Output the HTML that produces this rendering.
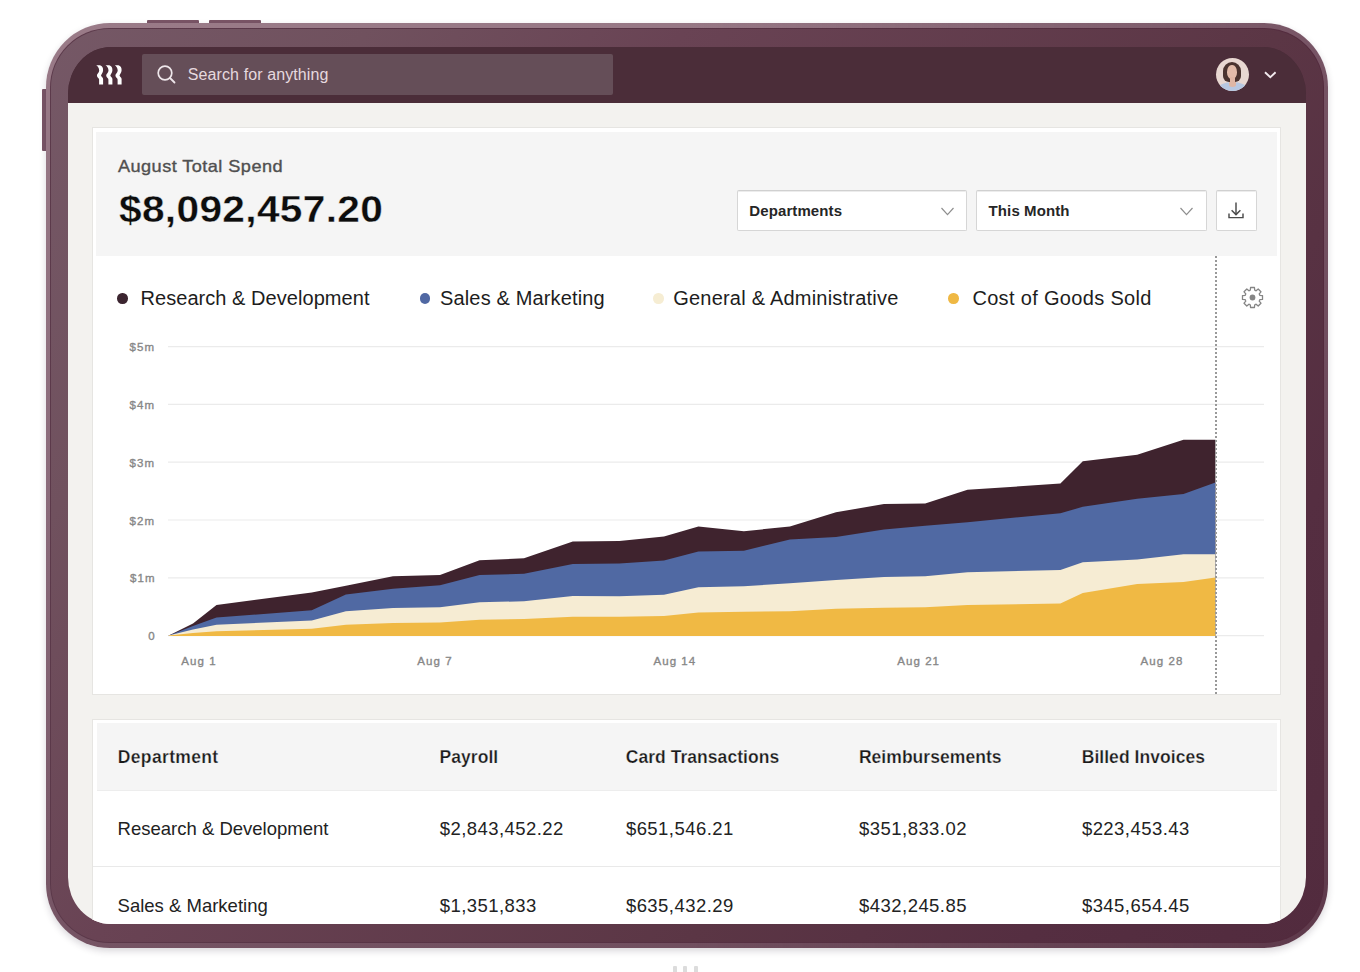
<!DOCTYPE html>
<html><head><meta charset="utf-8">
<style>
*{margin:0;padding:0;box-sizing:border-box}
html,body{width:1360px;height:972px;background:#fff;overflow:hidden;font-family:"Liberation Sans",sans-serif}
.abs{position:absolute}
.t{position:absolute;white-space:pre;line-height:1}
#shadow{left:45px;top:25px;width:1284px;height:926px;border-radius:65px;box-shadow:0 3px 8px rgba(60,40,60,.16)}
#rim{left:45.5px;top:23px;width:1282.5px;height:924.5px;border-radius:64px;background:linear-gradient(90deg,rgba(70,30,50,0) 0%,rgba(70,30,50,0) 50%,rgba(70,30,50,.38) 100%),linear-gradient(172deg,#9a7b88 0%,#8a6a7a 45%,#6c4a5a 100%);box-shadow:0 3px 7px rgba(40,30,50,.18)}
#dline{left:50px;top:27.5px;width:1273.5px;height:915.5px;border-radius:59.5px;background:linear-gradient(100deg,#5c3a4b 0%,#52293c 100%)}
#frame{left:51px;top:28.5px;width:1271.5px;height:913.5px;border-radius:58.5px;background:linear-gradient(123deg,#755866 0%,#70515e 17%,#694354 34%,#5b3645 66%,#552e41 84%,#522b3e 100%)}
#screen{left:67.5px;top:47px;width:1238.5px;height:877px;border-radius:43px / 47px;background:linear-gradient(#4b2d39 0,#4b2d39 56px,#f3f2ef 56px);overflow:hidden}
#hdr{left:0;top:0;width:100%;height:56px;background:#4b2d39}
#search{left:74.5px;top:7px;width:471px;height:41px;background:#654e58;border-radius:2px}
.card{position:absolute;background:#fff;border:1px solid #e6e5e2}
.gray{position:absolute;background:#f5f5f5}
.dd{position:absolute;background:#fff;border:1px solid #d6d6d6;border-top-color:#d0d0d0;border-radius:2px;box-shadow:inset 0 1px 0 #ececec}
.lg{font-size:20px;color:#1d1d1d;letter-spacing:0.15px}
.dot{position:absolute;width:10.4px;height:10.4px;border-radius:50%}
.yl{font-size:11.5px;color:#878787;font-weight:400;letter-spacing:1.05px;-webkit-text-stroke:0.35px #878787}
.th{letter-spacing:0.05px;-webkit-text-stroke:0.25px #f5f5f5;font-size:17.5px;font-weight:700;color:#1a1a1a}
.td{font-size:18.5px;color:#222}
.num{letter-spacing:0.45px}
</style></head><body>
<!-- side buttons -->
<div class="abs" style="left:146.5px;top:20px;width:52px;height:5px;background:#7a5566;border-radius:1px"></div>
<div class="abs" style="left:209px;top:20px;width:52px;height:5px;background:#7a5566;border-radius:1px"></div>
<div class="abs" style="left:42.3px;top:89px;width:5px;height:62px;background:#7a5566;border-radius:1px"></div>

<div class="abs" style="left:672.6px;top:965.5px;width:4px;height:7px;background:#dcdcdc;border-radius:1px 1px 0 0"></div>
<div class="abs" style="left:683.4px;top:965.5px;width:4px;height:7px;background:#dcdcdc;border-radius:1px 1px 0 0"></div>
<div class="abs" style="left:694px;top:965.5px;width:4px;height:7px;background:#dcdcdc;border-radius:1px 1px 0 0"></div>
<div id="rim" class="abs"></div>
<div id="dline" class="abs"></div>
<div id="frame" class="abs"></div>
<div id="screen" class="abs">
  
  <div id="c" class="abs" style="left:-67.5px;top:-47px;width:1360px;height:972px">
    <!-- card 1 -->
    <div class="card" style="left:91.8px;top:127px;width:1189.7px;height:567.8px"></div>
    <div class="gray" style="left:96.4px;top:131.8px;width:1180.4px;height:124.2px"></div>
    <div class="t" style="left:117.6px;top:158.4px;font-size:16.5px;color:#505050;letter-spacing:0.4px;-webkit-text-stroke:0.35px #505050;transform:scaleX(1.1);transform-origin:0 0">August Total Spend</div>
    <div class="t" style="left:118.6px;top:190.8px;font-size:37px;font-weight:700;color:#0d0d0d;-webkit-text-stroke:0.35px #f5f5f5;paint-order:normal;letter-spacing:0.3px;transform:scaleX(1.0985);transform-origin:0 0">$8,092,457.20</div>
    <div class="dd" style="left:737px;top:190.4px;width:230px;height:40.8px"></div>
    <div class="t" style="left:749.3px;top:202.8px;font-size:15px;font-weight:700;color:#262626;letter-spacing:0.1px">Departments</div>
    <svg class="abs" style="left:940px;top:206px" width="15" height="11" viewBox="0 0 15 11"><path d="M1.5,2 L7.5,8.6 L13.5,2" fill="none" stroke="#8f8f8f" stroke-width="1.2"/></svg>
    <div class="dd" style="left:976px;top:190.4px;width:231px;height:40.8px"></div>
    <div class="t" style="left:988.6px;top:202.8px;font-size:15px;font-weight:700;color:#262626;letter-spacing:0.1px">This Month</div>
    <svg class="abs" style="left:1179px;top:206px" width="15" height="11" viewBox="0 0 15 11"><path d="M1.5,2 L7.5,8.6 L13.5,2" fill="none" stroke="#8f8f8f" stroke-width="1.2"/></svg>
    <div class="dd" style="left:1215.6px;top:190.4px;width:41px;height:40.8px"></div>
    <svg class="abs" style="left:1226px;top:200px" width="20" height="20" viewBox="0 0 20 20"><g fill="none" stroke="#4a4a4a" stroke-width="1.45"><path d="M10,2.4 V14.4"/><path d="M5.6,10.2 L10,14.6 L14.4,10.2"/><path d="M3,13.6 V17.6 H17 V13.6"/></g></svg>
    <!-- legend -->
    <div class="dot" style="left:117.2px;top:293.3px;background:#3c2530"></div>
    <div class="t lg" style="left:140.5px;top:287.6px;letter-spacing:0.05px">Research &amp; Development</div>
    <div class="dot" style="left:420px;top:293.3px;background:#5068a3"></div>
    <div class="t lg" style="left:440px;top:287.6px">Sales &amp; Marketing</div>
    <div class="dot" style="left:653.2px;top:293.3px;background:#f6edd3"></div>
    <div class="t lg" style="left:673.2px;top:287.6px;letter-spacing:0.22px">General &amp; Administrative</div>
    <div class="dot" style="left:948.4px;top:293.3px;background:#efb844"></div>
    <div class="t lg" style="left:972.4px;top:287.6px;letter-spacing:0.33px">Cost of Goods Sold</div>
    <!-- gear -->
    <svg class="abs" style="left:1240px;top:285px" width="25" height="25" viewBox="0 0 25 25">
      <path id="gearp" fill="none" stroke="#858585" stroke-width="1.3" stroke-linejoin="round" d="M9.59,5.48 L10.28,5.23 L10.55,2.49 L14.45,2.49 L14.72,5.23 L15.41,5.48 L16.07,5.79 L18.20,4.04 L20.96,6.80 L19.21,8.93 L19.52,9.59 L19.77,10.28 L22.51,10.55 L22.51,14.45 L19.77,14.72 L19.52,15.41 L19.21,16.07 L20.96,18.20 L18.20,20.96 L16.07,19.21 L15.41,19.52 L14.72,19.77 L14.45,22.51 L10.55,22.51 L10.28,19.77 L9.59,19.52 L8.93,19.21 L6.80,20.96 L4.04,18.20 L5.79,16.07 L5.48,15.41 L5.23,14.72 L2.49,14.45 L2.49,10.55 L5.23,10.28 L5.48,9.59 L5.79,8.93 L4.04,6.80 L6.80,4.04 L8.93,5.79 Z"/>
      <circle cx="12.5" cy="12.5" r="2.9" fill="#858585"/>
    </svg>
    <!-- chart -->
    <svg class="abs" style="left:0;top:0" width="1360" height="972" viewBox="0 0 1360 972">
      <g stroke="#ebebeb" stroke-width="1.2">
        <line x1="168" y1="346.6" x2="1264" y2="346.6"/>
        <line x1="168" y1="404.4" x2="1264" y2="404.4"/>
        <line x1="168" y1="462.2" x2="1264" y2="462.2"/>
        <line x1="168" y1="520" x2="1264" y2="520"/>
        <line x1="168" y1="577.8" x2="1264" y2="577.8"/>
        <line x1="168" y1="635.6" x2="1264" y2="635.6"/>
      </g>
      <polygon id="pd" fill="#3f232e" points="168.8,635.6 193,623.5 216.5,605 311.8,592.4 345.9,585.8 393,576.2 440,575 479.6,560.3 524,558.3 572.8,541.5 619.4,541 664,536.5 698.4,526.4 743.9,531.3 789.9,526.4 836,512.3 884,504 925.2,503.5 967.5,489.8 1060.4,483.6 1082.8,461.2 1137.2,454.7 1183.5,439.7 1215.4,439.7 1215.4,636 168.8,636"/>
      <polygon id="pb" fill="#5069a3" points="168.8,635.6 193,626 216.5,617.6 311.8,610.2 345.9,594.4 393,588.8 440,585.3 479.6,575 524,573.8 572.8,564 619.4,563.4 664,560.4 698.4,551.4 743.9,550.7 789.9,539.4 836,537 884,529.6 925.2,525.8 967.5,522.2 1060.4,513.3 1082.8,506.8 1137.2,498.7 1183.5,494 1215.4,482.5 1215.4,636 168.8,636"/>
      <polygon id="pc" fill="#f6ecd3" points="168.8,635.6 193,629.5 216.5,624.7 311.8,620.6 345.9,611.2 393,608 440,607.3 479.6,602.3 524,601.3 572.8,595.9 619.4,596.2 664,594.7 698.4,587.2 743.9,586.2 789.9,583.3 836,580.1 884,576.9 925.2,576.2 967.5,572.2 1060.4,570 1082.8,562.3 1137.2,559.5 1183.5,554.2 1215.4,554.2 1215.4,636 168.8,636"/>
      <polygon id="py" fill="#f0b944" points="168.8,635.6 193,633 216.5,631.2 311.8,628.8 345.9,624.7 393,623 440,622.4 479.6,619.7 524,619 572.8,616.7 619.4,616.8 664,616 698.4,612.6 743.9,611.8 789.9,611.2 836,608.8 884,607.7 925.2,607.2 967.5,605 1060.4,603.5 1082.8,593.1 1137.2,583.9 1183.5,582 1215.4,577.4 1215.4,636 168.8,636"/>
    </svg>
    <!-- dotted line -->
    <div class="abs" style="left:1215px;top:256px;width:1.6px;height:438px;background:repeating-linear-gradient(to bottom,#999 0,#999 2px,transparent 2px,transparent 4px)"></div>
    <div class="t yl" style="left:129.5px;top:342.1px">$5m</div>
    <div class="t yl" style="left:129.5px;top:399.9px">$4m</div>
    <div class="t yl" style="left:129.5px;top:457.7px">$3m</div>
    <div class="t yl" style="left:129.5px;top:515.5px">$2m</div>
    <div class="t yl" style="left:130.0px;top:573.3px">$1m</div>
    <div class="t yl" style="left:148.3px;top:631.1px">0</div>
    <div class="t yl" style="left:181.3px;top:655.9px">Aug 1</div>
    <div class="t yl" style="left:417.3px;top:655.9px">Aug 7</div>
    <div class="t yl" style="left:653.5px;top:655.9px">Aug 14</div>
    <div class="t yl" style="left:897.3px;top:655.9px">Aug 21</div>
    <div class="t yl" style="left:1140.6px;top:655.9px">Aug 28</div>
    <!-- table card -->
    <div class="card" style="left:92.2px;top:719px;width:1189px;height:260px"></div>
    <div class="gray" style="left:96.5px;top:722.8px;width:1180.5px;height:67.8px;border-bottom:1px solid #ededed"></div>
    <div class="t th" style="letter-spacing:0.35px;left:117.8px;top:749.2px">Department</div>
    <div class="t th" style="left:439.5px;top:749.2px">Payroll</div>
    <div class="t th" style="left:625.7px;top:749.2px">Card Transactions</div>
    <div class="t th" style="left:858.9px;top:749.2px">Reimbursements</div>
    <div class="t th" style="left:1081.7px;top:749.2px">Billed Invoices</div>
    <div class="t td" style="left:117.6px;top:820.4px">Research &amp; Development</div>
    <div class="t td num" style="left:439.7px;top:820.4px">$2,843,452.22</div>
    <div class="t td num" style="left:625.9px;top:820.4px">$651,546.21</div>
    <div class="t td num" style="left:859.1px;top:820.4px">$351,833.02</div>
    <div class="t td num" style="left:1081.9px;top:820.4px">$223,453.43</div>
    <div class="abs" style="left:93px;top:866.1px;width:1187.5px;height:1.3px;background:#e9e9e9"></div>
    <div class="t td" style="left:117.6px;top:896.5px">Sales &amp; Marketing</div>
    <div class="t td num" style="left:439.7px;top:896.5px">$1,351,833</div>
    <div class="t td num" style="left:625.9px;top:896.5px">$635,432.29</div>
    <div class="t td num" style="left:859.1px;top:896.5px">$432,245.85</div>
    <div class="t td num" style="left:1081.9px;top:896.5px">$345,654.45</div>
  </div>
  <div id="hdr" class="abs">
    <svg class="abs" style="left:28.8px;top:17.9px" width="27" height="20" viewBox="0 0 27 20">
      <g fill="#fff"><path d="M0.2,0.3 H4 C6.2,0.8 7.2,2.8 7.1,5.2 C7,7.6 5.4,9 5,10.5 C5.5,11.8 7.1,12.5 7.1,14 V19.4 H3.1 V14.5 C3.1,13 0.9,12.4 0.9,10.5 C0.9,8.5 3.2,7.6 3.2,5.4 C3.2,3.2 1.6,1.2 0.2,0.3 Z"/><path transform="translate(9.3,0)" d="M0.2,0.3 H4 C6.2,0.8 7.2,2.8 7.1,5.2 C7,7.6 5.4,9 5,10.5 C5.5,11.8 7.1,12.5 7.1,14 V19.4 H3.1 V14.5 C3.1,13 0.9,12.4 0.9,10.5 C0.9,8.5 3.2,7.6 3.2,5.4 C3.2,3.2 1.6,1.2 0.2,0.3 Z"/><path transform="translate(18.5,0)" d="M0.2,0.3 H4 C6.2,0.8 7.2,2.8 7.1,5.2 C7,7.6 5.4,9 5,10.5 C5.5,11.8 7.1,12.5 7.1,14 V19.4 H3.1 V14.5 C3.1,13 0.9,12.4 0.9,10.5 C0.9,8.5 3.2,7.6 3.2,5.4 C3.2,3.2 1.6,1.2 0.2,0.3 Z"/></g>
    </svg>
    <div id="search" class="abs">
      <svg class="abs" style="left:15px;top:11px" width="20" height="20" viewBox="0 0 20 20"><circle cx="8" cy="8" r="6.8" fill="none" stroke="#eee6ea" stroke-width="1.7"/><path d="M13,13 L17.5,17.5" stroke="#eee6ea" stroke-width="1.8" stroke-linecap="round"/></svg>
      <div class="t" style="left:45.8px;top:12.8px;font-size:16px;color:#e6d9df;letter-spacing:0.1px">Search for anything</div>
    </div>
    <!-- avatar -->
    <div class="abs" style="left:1148px;top:10.8px;width:33px;height:33px;border-radius:50%;background:#e8d7d1;overflow:hidden">
      <div class="abs" style="left:7.3px;top:4.2px;width:17.8px;height:20.5px;border-radius:9px 9px 6px 6px;background:#4a332f"></div>
      <div class="abs" style="left:11.8px;top:7.2px;width:9.6px;height:14.5px;border-radius:48% 48% 45% 45%;background:#e2bba9"></div>
      <div class="abs" style="left:14px;top:19px;width:5px;height:8px;background:#dfb6a4"></div>
      <div class="abs" style="left:2px;top:24.5px;width:29px;height:14px;border-radius:50% 50% 0 0;background:#b7c7e1"></div>
      <div class="abs" style="left:13px;top:24.3px;width:7px;height:4.5px;border-radius:0 0 50% 50%;background:#dfb6a4"></div>
    </div>
    <svg class="abs" style="left:1196px;top:24px" width="13" height="8" viewBox="0 0 13 8"><path d="M1,1.3 L6.3,6.3 L11.6,1.3" fill="none" stroke="#f2eaee" stroke-width="1.9"/></svg>
  </div>
</div>
</body></html>
